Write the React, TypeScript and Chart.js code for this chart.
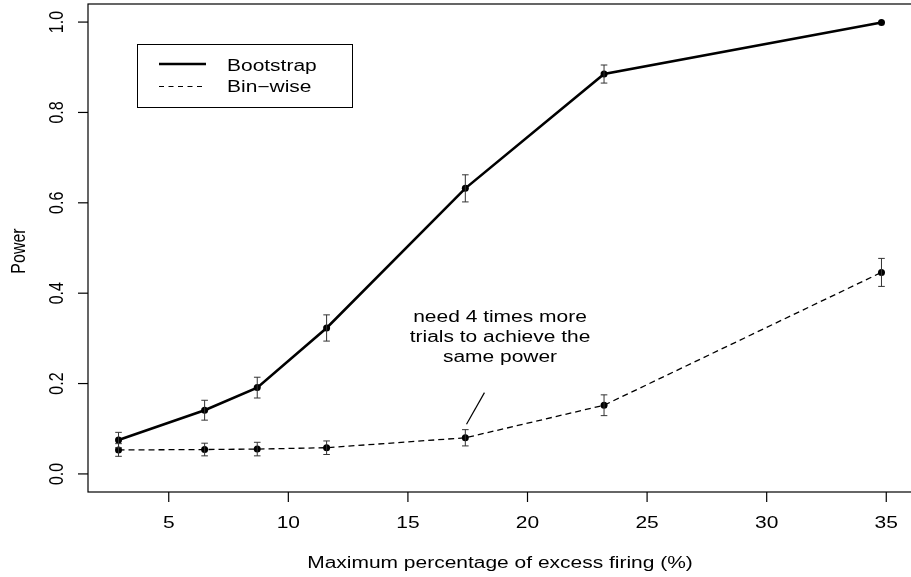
import { useEffect, useRef } from "react";
import { Chart, registerables } from "chart.js";

Chart.register(...registerables);

// ---------- data ----------
const xValues = [2.9, 6.5, 8.7, 11.6, 17.4, 23.2, 34.8];
const bootstrapPower = [0.075, 0.141, 0.191, 0.323, 0.632, 0.885, 0.999];
const bootstrapErr = [0.017, 0.022, 0.023, 0.029, 0.03, 0.02, 0];
const binwisePower = [0.053, 0.054, 0.055, 0.058, 0.08, 0.152, 0.446];
const binwiseErr = [0.014, 0.014, 0.015, 0.015, 0.018, 0.023, 0.031];

const seriesLabels = ["Bootstrap", "Bin\u2212wise"];
const xTickValues = [5, 10, 15, 20, 25, 30, 35];
const xTickLabels = ["5", "10", "15", "20", "25", "30", "35"];
const yTickValues = [0, 0.2, 0.4, 0.6, 0.8, 1.0];
const yTickLabels = ["0.0", "0.2", "0.4", "0.6", "0.8", "1.0"];
const xRange = [1.624, 36.076];
const yRange = [-0.04, 1.04];
const xTitle = "Maximum percentage of excess firing (%)";
const yTitle = "Power";

const noteLines = ["need 4 times more", "trials to achieve the", "same power"];
const noteAnchor = [18.85, 0.292]; // centre x, baseline of middle line
const pointerFrom = [18.2, 0.18];
const pointerTo = [17.45, 0.11];

// ---------- style ----------
const FONT_PX = 16;
const SX = 1.31;
const FONT = `${FONT_PX}px "Liberation Sans", Arial, Helvetica, sans-serif`;

function drawText(
  ctx: CanvasRenderingContext2D,
  s: string,
  x: number,
  y: number,
  align: CanvasTextAlign,
  rotate = false
) {
  ctx.save();
  ctx.translate(x, y);
  ctx.scale(SX, 1);
  if (rotate) ctx.rotate(-Math.PI / 2);
  ctx.font = FONT;
  ctx.fillStyle = "#000";
  ctx.textAlign = align;
  ctx.textBaseline = "alphabetic";
  ctx.fillText(s, 0, 0);
  ctx.restore();
}

const rPlugin = {
  id: "rstyle",
  beforeDatasetsDraw(chart: any) {
    const ctx: CanvasRenderingContext2D = chart.ctx;
    const { left, right, top, bottom } = chart.chartArea;
    const xs = chart.scales.x;
    const ys = chart.scales.y;
    ctx.save();
    ctx.strokeStyle = "#000";
    ctx.lineWidth = 1.2;
    ctx.strokeRect(left, top, right - left, bottom - top);
    // y ticks
    yTickValues.forEach((v, i) => {
      const py = ys.getPixelForValue(v);
      ctx.beginPath();
      ctx.moveTo(left, py);
      ctx.lineTo(left - 10, py);
      ctx.stroke();
      drawText(ctx, yTickLabels[i], 63, py, "center", true);
    });
    // x ticks
    xTickValues.forEach((v, i) => {
      const px = xs.getPixelForValue(v);
      ctx.beginPath();
      ctx.moveTo(px, bottom);
      ctx.lineTo(px, bottom + 10);
      ctx.stroke();
      drawText(ctx, xTickLabels[i], px, 528, "center");
    });
    const cx = (xs.getPixelForValue(xRange[0]) + xs.getPixelForValue(xRange[1])) / 2;
    drawText(ctx, xTitle, cx, 568, "center");
    drawText(ctx, yTitle, 25, (top + bottom) / 2 + 3, "center", true);
    ctx.restore();
  },
  afterDatasetsDraw(chart: any) {
    const ctx: CanvasRenderingContext2D = chart.ctx;
    const xs = chart.scales.x;
    const ys = chart.scales.y;
    ctx.save();
    // error bars
    const bars = (vals: number[], errs: number[]) => {
      vals.forEach((v, i) => {
        if (!errs[i]) return;
        const px = xs.getPixelForValue(xValues[i]);
        const p1 = ys.getPixelForValue(v + errs[i]);
        const p2 = ys.getPixelForValue(v - errs[i]);
        ctx.strokeStyle = "#333";
        ctx.lineWidth = 1;
        ctx.setLineDash([]);
        ctx.beginPath();
        ctx.moveTo(px, p1);
        ctx.lineTo(px, p2);
        ctx.moveTo(px - 3.3, p1);
        ctx.lineTo(px + 3.3, p1);
        ctx.moveTo(px - 3.3, p2);
        ctx.lineTo(px + 3.3, p2);
        ctx.stroke();
      });
    };
    bars(bootstrapPower, bootstrapErr);
    bars(binwisePower, binwiseErr);

    // annotation
    const ax = xs.getPixelForValue(noteAnchor[0]);
    const ay = ys.getPixelForValue(noteAnchor[1]);
    const lh = 19.7;
    noteLines.forEach((s, i) => {
      drawText(ctx, s, ax, ay + (i - 1) * lh, "center");
    });
    ctx.strokeStyle = "#000";
    ctx.lineWidth = 1.2;
    ctx.beginPath();
    ctx.moveTo(xs.getPixelForValue(pointerFrom[0]), ys.getPixelForValue(pointerFrom[1]));
    ctx.lineTo(xs.getPixelForValue(pointerTo[0]), ys.getPixelForValue(pointerTo[1]));
    ctx.stroke();

    // legend
    ctx.lineWidth = 1;
    ctx.strokeStyle = "#000";
    ctx.strokeRect(137.5, 44.5, 215, 63);
    ctx.beginPath();
    ctx.lineWidth = 2.5;
    ctx.moveTo(159, 64);
    ctx.lineTo(206, 64);
    ctx.stroke();
    ctx.beginPath();
    ctx.lineWidth = 1;
    ctx.setLineDash([5, 4.5]);
    ctx.moveTo(159, 86.5);
    ctx.lineTo(206, 86.5);
    ctx.stroke();
    ctx.setLineDash([]);
    drawText(ctx, seriesLabels[0], 227, 71, "left");
    drawText(ctx, seriesLabels[1], 227, 92, "left");
    ctx.restore();
  },
};

export default function App() {
  const ref = useRef<HTMLCanvasElement | null>(null);
  useEffect(() => {
    if (!ref.current) return;
    const chart = new Chart(ref.current, {
      type: "scatter",
      data: {
        datasets: [
          {
            label: seriesLabels[0],
            data: xValues.map((x, i) => ({ x, y: bootstrapPower[i] })),
            showLine: true,
            borderColor: "#000",
            borderWidth: 2.6,
            backgroundColor: "#000",
            pointRadius: 3.5,
            pointBorderWidth: 0,
            pointBackgroundColor: "#000",
            tension: 0,
          },
          {
            label: seriesLabels[1],
            data: xValues.map((x, i) => ({ x, y: binwisePower[i] })),
            showLine: true,
            borderColor: "#000",
            borderWidth: 1.3,
            borderDash: [6, 4],
            backgroundColor: "#000",
            pointRadius: 3.5,
            pointBorderWidth: 0,
            pointBackgroundColor: "#000",
            tension: 0,
          },
        ],
      },
      options: {
        responsive: false,
        devicePixelRatio: 1,
        animation: false,
        events: [],
        layout: { padding: { left: 0, top: 3, right: 1, bottom: 0 } },
        plugins: { legend: { display: false }, tooltip: { enabled: false } },
        scales: {
          x: {
            type: "linear",
            min: xRange[0],
            max: xRange[1],
            ticks: { display: false },
            grid: { display: false },
            border: { display: false },
            afterFit: (s: any) => {
              s.height = 85;
            },
          },
          y: {
            type: "linear",
            min: yRange[0],
            max: yRange[1],
            ticks: { display: false },
            grid: { display: false },
            border: { display: false },
            afterFit: (s: any) => {
              s.width = 88;
            },
          },
        },
      },
      plugins: [rPlugin],
    } as any);
    return () => chart.destroy();
  }, []);
  return (
    <div
      style={{
        position: "fixed",
        left: 0,
        top: 0,
        width: 911,
        height: 577,
        overflow: "hidden",
        background: "#fff",
      }}
    >
      <canvas
        ref={ref}
        width={916}
        height={577}
        style={{ width: 916, height: 577, display: "block" }}
      />
    </div>
  );
}
